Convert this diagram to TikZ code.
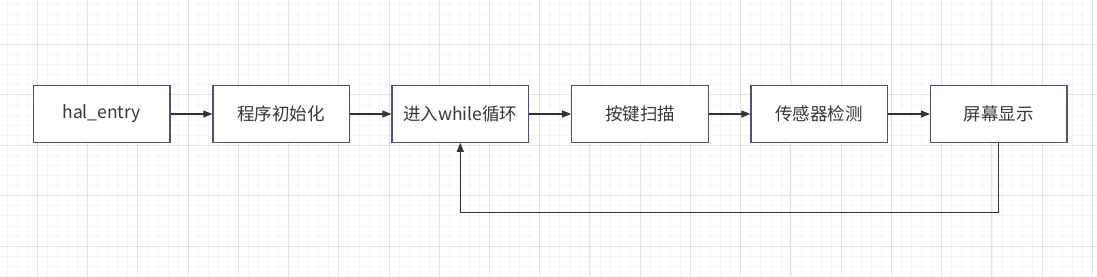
\documentclass[tikz,border=0pt]{standalone}
\usepackage{fontspec}
\setmainfont{Noto Sans CJK SC}
\usetikzlibrary{arrows.meta}
\definecolor{boxline}{RGB}{78,82,118}
\definecolor{flowline}{RGB}{51,51,51}
\definecolor{gridminor}{RGB}{245,245,245}
\definecolor{gridmajor}{RGB}{226,226,226}
\begin{document}
\begin{tikzpicture}[x=1pt, y=-1pt,
  stage/.style={draw=boxline, line width=1.2pt, fill=white, minimum width=136.5pt, minimum height=56.5pt, inner sep=0pt, font=\fontsize{17.5}{19}\selectfont, text=black!78},
  flow/.style={draw=flowline, line width=1.1pt, -{Triangle[length=9pt, width=7pt]}}]
\useasboundingbox (0,0) rectangle (1097,276);
% background grid
\foreach \i in {0,...,108} \draw[gridminor, line width=0.9pt] ({7.3+10.048*\i},0) -- ++(0,276);
\foreach \j in {0,...,27} \draw[gridminor, line width=0.9pt] (0,{4.2+10.08*\j}) -- ++(1097,0);
\foreach \i in {0,...,21} \draw[gridmajor, line width=0.9pt] ({37.3+50.24*\i},0) -- ++(0,276);
\foreach \j in {0,...,4} \draw[gridmajor, line width=0.9pt] (0,{44.5+50.4*\j}) -- ++(1097,0);
% program flow
\node[stage] (entry) at (101.7,114) {hal\_entry};
\node[stage] (init) at (281.2,114) {程序初始化};
\node[stage] (loop) at (460.3,114) {进入while循环};
\node[stage] (keys) at (640,114) {按键扫描};
\node[stage] (sensor) at (819.2,114) {传感器检测};
\node[stage] (show) at (998.8,114) {屏幕显示};
\draw[flow] (entry) -- (init);
\draw[flow] (init) -- (loop);
\draw[flow] (loop) -- (keys);
\draw[flow] (keys) -- (sensor);
\draw[flow] (sensor) -- (show);
% back to the loop
\coordinate (back) at (460.3,212.5);
\draw[flow] (show.south) |- (back) -- (loop.south);
\end{tikzpicture}
\end{document}
